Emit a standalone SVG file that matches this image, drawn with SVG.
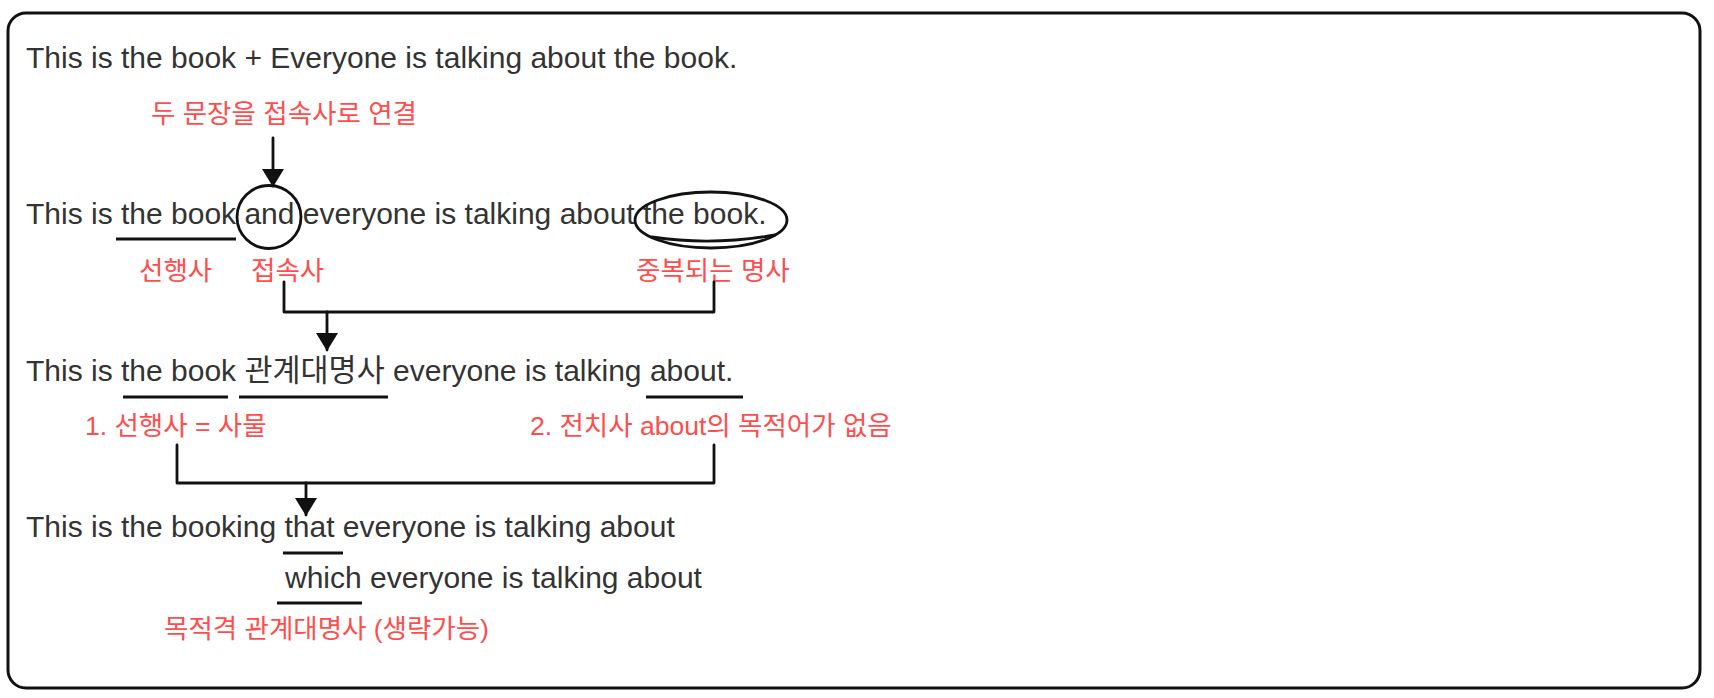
<svg xmlns="http://www.w3.org/2000/svg" width="1714" height="698" viewBox="0 0 1714 698">
  <defs>
    <style>
      .txt { font-family: "Liberation Sans", "Noto Sans CJK KR", sans-serif; font-size: 30px; fill: #333333; }
      .ko { font-family: "Noto Sans CJK KR", sans-serif; font-size: 30.5px; }
      .note { font-family: "Liberation Sans", "Noto Sans CJK KR", sans-serif; font-size: 26.5px; fill: #ff4d4d; }
      .ln { fill: none; stroke: #111111; stroke-width: 2.8; stroke-linecap: round; stroke-linejoin: round; }
      .ul { fill: none; stroke: #111111; stroke-width: 2.8; }
    </style>
    <marker id="ah" markerUnits="userSpaceOnUse" markerWidth="18" markerHeight="22" viewBox="0 0 18 22" refX="17" refY="11" orient="auto">
      <path d="M0,0 L18,11 L0,22 Z" fill="#111111"/>
    </marker>
  </defs>

  <rect x="0" y="0" width="1714" height="698" fill="#ffffff"/>
  <g id="frame">
    <rect x="8" y="13" width="1692" height="675" rx="18" ry="18" fill="#ffffff" stroke="#111111" stroke-width="3"/>
  </g>

  <g id="sentence1">
    <text class="txt" x="26" y="68">This is the book + Everyone is talking about the book.</text>
  </g>

  <g id="note-connect">
    <text class="note" x="151" y="123">두 문장을 접속사로 연결</text>
  </g>

  <g id="sentence2">
    <text class="txt" x="26" y="224">This is the book and everyone is talking about the book.</text>
    <ellipse class="ln" cx="269" cy="217" rx="32" ry="31.5"/>
    <ellipse class="ln" cx="711" cy="220" rx="76" ry="28"/>
    <path class="ln" d="M652,237 Q712,246 775,235"/>
    <line class="ul" x1="116" y1="239" x2="236" y2="239"/>
  </g>

  <g id="labels2">
    <text class="note" x="139" y="280">선행사</text>
    <text class="note" x="251" y="280">접속사</text>
    <text class="note" x="636" y="280">중복되는 명사</text>
  </g>

  <g id="sentence3">
    <text class="txt" x="26" y="381">This is the book <tspan class="ko">관계대명사</tspan> everyone is talking about.</text>
    <line class="ul" x1="123" y1="397" x2="228" y2="397"/>
    <line class="ul" x1="239" y1="397" x2="388" y2="397"/>
    <line class="ul" x1="646" y1="397" x2="743" y2="397"/>
  </g>

  <g id="labels3">
    <text class="note" x="85" y="435">1. 선행사 = 사물</text>
    <text class="note" x="530" y="435">2. 전치사 about의 목적어가 없음</text>
  </g>

  <g id="sentence4">
    <text class="txt" x="26" y="537">This is the booking that everyone is talking about</text>
    <line class="ul" x1="283" y1="553" x2="343" y2="553"/>
  </g>

  <g id="sentence5">
    <text class="txt" x="285" y="588">which everyone is talking about</text>
    <line class="ul" x1="277" y1="603" x2="362" y2="603"/>
  </g>

  <g id="note-object">
    <text class="note" x="164" y="638">목적격 관계대명사 (생략가능)</text>
  </g>

  <g id="connectors">
    <line class="ln" x1="273" y1="138" x2="273" y2="186" marker-end="url(#ah)"/>
    <path class="ln" d="M284,282 V312 H714 V282"/>
    <line class="ln" x1="327" y1="312" x2="327" y2="350" marker-end="url(#ah)"/>
    <path class="ln" d="M177,445 V483 H714 V445"/>
    <line class="ln" x1="306" y1="483" x2="306" y2="515" marker-end="url(#ah)"/>
  </g>
</svg>
